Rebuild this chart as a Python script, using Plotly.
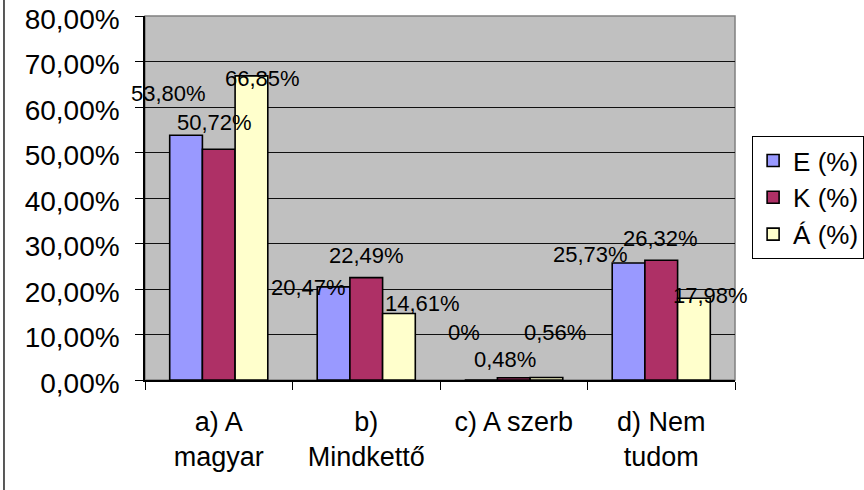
import plotly.graph_objects as go

categories = ["a) A<br>magyar", "b)<br>Mindkettő", "c) A szerb", "d) Nem<br>tudom"]
series_names = ["E (%)", "K (%)", "Á (%)"]
e_values = [53.80, 20.47, 0.0, 25.73]
k_values = [50.72, 22.49, 0.48, 26.32]
a_values = [66.85, 14.61, 0.56, 17.98]
y_tick_values = [0, 0.1, 0.2, 0.3, 0.4, 0.5, 0.6, 0.7, 0.8]

colors = ["#9999FF", "#AE3066", "#FFFFCC"]
FONT = "Liberation Sans, Arial, sans-serif"

# label pixel offsets (x, y-up) relative to each bar's top centre, per series, per category
label_dx = [[-18, -25.5, -17, -38.5], [-4, 0, -9, -1], [11.5, 24, 8.5, 17]]
label_dy = [[42, -1, 48, 8], [27, 22, 18, 22], [-3, 10, 45, 3]]

all_values = [e_values, k_values, a_values]

fig = go.Figure()
for j, (name, vals) in enumerate(zip(series_names, all_values)):
    fig.add_trace(go.Bar(
        x=categories, y=[v / 100 for v in vals], name=name,
        legendgroup=name,
        marker=dict(color=colors[j], line=dict(color="black", width=1.6)),
    ))

def fmt(v):
    if v == 0:
        return "0%"
    return f"{v:.2f}".replace(".", ",") + "%"

bar_off = 0.2217
annotations = []
for j, vals in enumerate(all_values):
    for i, v in enumerate(vals):
        annotations.append(dict(
            x=i + (j - 1) * bar_off, y=v / 100, xref="x", yref="y",
            text=fmt(v), showarrow=False, xanchor="center", yanchor="middle",
            xshift=label_dx[j][i], yshift=label_dy[j][i],
            font=dict(family=FONT, size=22, color="black"),
        ))

fig.update_layout(
    width=864, height=490,
    margin=dict(l=145, r=129, t=16, b=110, autoexpand=False),
    paper_bgcolor="white", plot_bgcolor="#C0C0C0",
    separators=", ",
    barmode="group", bargap=0.335, bargroupgap=0,
    font=dict(family=FONT, size=27, color="black"),
    annotations=annotations,
    legend=dict(
        x=1.029, y=0.670, xanchor="left", yanchor="top",
        xref="paper", yref="paper",
        bordercolor="black", borderwidth=1, bgcolor="white",
        font=dict(family=FONT, size=26, color="black"),
        tracegroupgap=10, traceorder="normal",
    ),
    shapes=[
        dict(type="rect", xref="paper", yref="paper", x0=0, x1=1, y0=0, y1=1,
             line=dict(color="#808080", width=1.5), layer="below"),
        dict(type="line", xref="paper", yref="paper", x0=-0.2390, x1=-0.2390,
             y0=-0.31, y1=1.05, line=dict(color="#222222", width=1.5)),
    ],
)
fig.update_xaxes(
    type="category", range=[-0.5, 3.5], autorange=False,
    tickson="boundaries", ticks="outside", ticklen=8,
    tickcolor="black", tickwidth=1, showline=True, linecolor="black", linewidth=1.5,
    showgrid=False, ticklabelstandoff=17, automargin=False,
    tickfont=dict(family=FONT, size=27, color="black"),
)
fig.update_yaxes(
    range=[0, 0.8], tickvals=y_tick_values, tickformat=".2%",
    ticks="outside", ticklen=8, tickcolor="black", tickwidth=1,
    showline=True, linecolor="black", linewidth=1.5,
    showgrid=True, gridcolor="#101010", gridwidth=1.2, zeroline=False,
    ticklabelstandoff=10, automargin=False, ticklabelshift=3,
    ticklabeloverflow="allow",
    tickfont=dict(family=FONT, size=28, color="black"),
)

fig.write_html("out.html")
